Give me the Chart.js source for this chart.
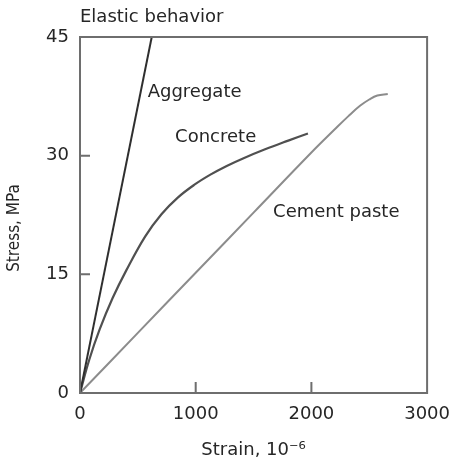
<!DOCTYPE html>
<html>
<head>
<meta charset="utf-8">
<script src="https://cdn.jsdelivr.net/npm/chart.js@4.4.1/dist/chart.umd.min.js"></script>
<style>
  html, body { margin: 0; padding: 0; background: #fff; }
</style>
</head>
<body>
<canvas id="c" width="461" height="464"></canvas>
<script>
// strain in 10^-6, stress in MPa
var aggregateStrain = [0, 620];
var aggregateStress = [0, 45];

var concreteStrain = [0, 80, 169, 282, 400, 564, 704, 845, 986, 1127, 1268, 1409, 1600, 1800, 1970];
var concreteStress = [0, 4.2, 8.0, 12.0, 15.5, 19.8, 22.6, 24.7, 26.3, 27.6, 28.7, 29.65, 30.8, 31.9, 32.8];

var pasteStrain = [0, 500, 1000, 1500, 2000, 2200, 2320, 2420, 2500, 2570, 2660];
var pasteStress = [0, 7.6, 15.2, 22.8, 30.4, 33.3, 35.0, 36.3, 37.1, 37.6, 37.8];

var xTicks = [0, 1000, 2000, 3000];
var yTicks = [0, 15, 30, 45];

// curve labels, placed in data units
var labelText = ['Elastic behavior', 'Aggregate', 'Concrete', 'Cement paste'];
var labelStrain = [0, 585, 822, 1669];
var labelStress = [46.9, 37.4, 31.7, 22.3];

var FONT = '"DejaVu Sans", "Liberation Sans", Arial, sans-serif';
var TEXT = '#262626';
var FRAME = '#6e6e6e';

function pts(xs, ys) {
  return xs.map(function(x, i) { return {x: x, y: ys[i]}; });
}

// frame, inward ticks, labels
var framePlugin = {
  id: 'frame',
  afterDatasetsDraw: function(chart) {
    var ctx = chart.ctx, a = chart.chartArea,
        xs = chart.scales.x, ys = chart.scales.y;
    ctx.save();
    ctx.strokeStyle = FRAME;
    ctx.lineWidth = 2;
    ctx.strokeRect(a.left, a.top, a.right - a.left, a.bottom - a.top);
    ctx.beginPath();
    xTicks.slice(1, -1).forEach(function(v) {
      var px = xs.getPixelForValue(v);
      ctx.moveTo(px, a.bottom);
      ctx.lineTo(px, a.bottom - 11);
    });
    yTicks.slice(1, -1).forEach(function(v) {
      var py = ys.getPixelForValue(v);
      ctx.moveTo(a.left, py);
      ctx.lineTo(a.left + 10, py);
    });
    ctx.stroke();

    ctx.fillStyle = TEXT;
    ctx.font = '18px ' + FONT;
    ctx.textAlign = 'left';
    ctx.textBaseline = 'alphabetic';
    labelText.forEach(function(t, i) {
      ctx.fillText(t, xs.getPixelForValue(labelStrain[i]), ys.getPixelForValue(labelStress[i]));
    });

    // y axis title
    ctx.font = '17px "DejaVu Sans Condensed", ' + FONT;
    ctx.textAlign = 'center';
    ctx.textBaseline = 'middle';
    ctx.translate(15, (a.top + a.bottom) / 2 + 13);
    ctx.rotate(-Math.PI / 2);
    ctx.fillText('Stress, MPa', 0, 0);
    ctx.restore();
  }
};

function plain(v) { return String(v); }

new Chart(document.getElementById('c'), {
  type: 'scatter',
  data: {
    datasets: [
      {label: 'Aggregate', data: pts(aggregateStrain, aggregateStress),
       borderColor: '#2f2f2f', borderWidth: 2},
      {label: 'Concrete', data: pts(concreteStrain, concreteStress),
       borderColor: '#505050', borderWidth: 2.2, tension: 0.4},
      {label: 'Cement paste', data: pts(pasteStrain, pasteStress),
       borderColor: '#8c8c8c', borderWidth: 2, tension: 0.4}
    ]
  },
  options: {
    responsive: false,
    animation: false,
    showLine: true,
    elements: { point: { radius: 0 } },
    layout: { padding: { top: 37, right: 26, left: 0, bottom: 0 } },
    plugins: { legend: { display: false }, tooltip: { enabled: false } },
    scales: {
      x: {
        type: 'linear', min: 0, max: 3000,
        afterBuildTicks: function(s) { s.ticks = xTicks.map(function(v) { return {value: v}; }); },
        afterFit: function(s) { s.height = 71; },
        grid: { display: false, drawTicks: false },
        border: { display: false },
        ticks: { color: TEXT, font: { family: FONT, size: 18 }, padding: 11, maxRotation: 0, callback: plain },
        title: { display: true, text: 'Strain, 10\u207B\u2076', color: TEXT,
                 font: { family: FONT, size: 18 }, padding: { top: 4, bottom: 3 } }
      },
      y: {
        type: 'linear', min: 0, max: 45,
        afterBuildTicks: function(s) { s.ticks = yTicks.map(function(v) { return {value: v}; }); },
        afterFit: function(s) { s.width = 80; },
        grid: { display: false, drawTicks: false },
        border: { display: false },
        ticks: { color: TEXT, font: { family: FONT, size: 18 }, padding: 11, callback: plain }
      }
    }
  },
  plugins: [framePlugin]
});
</script>
</body>
</html>
